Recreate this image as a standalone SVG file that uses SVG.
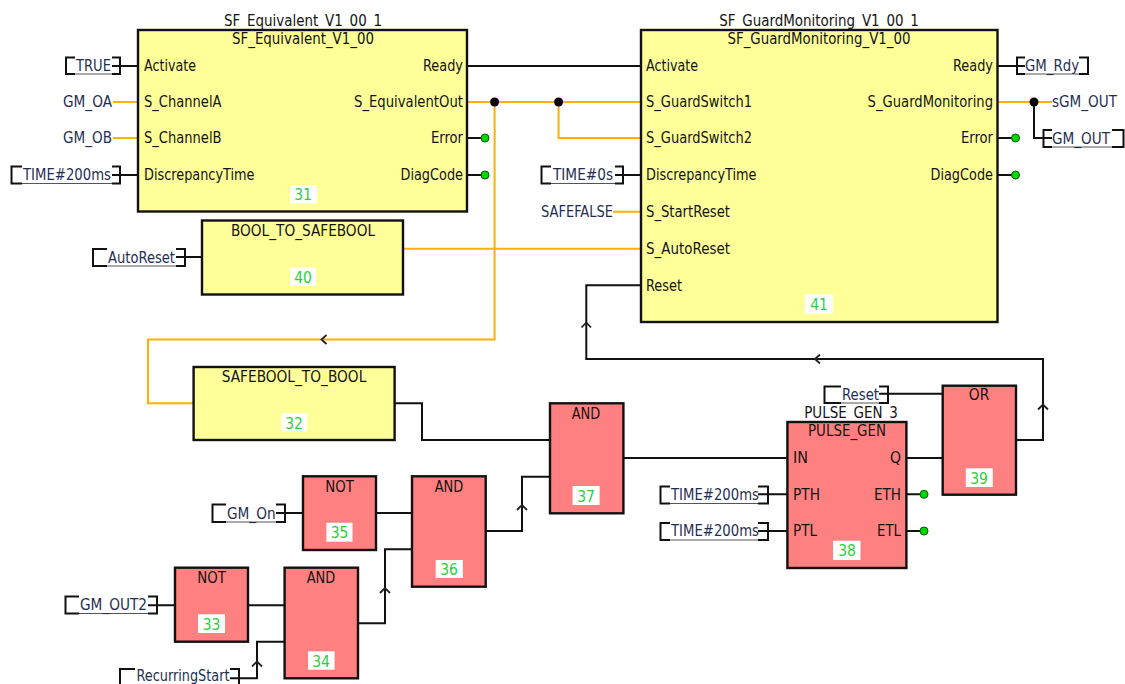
<svg xmlns="http://www.w3.org/2000/svg" width="1125" height="684" viewBox="0 0 1125 684">
<style>
text{font-family:"DejaVu Sans Condensed","DejaVu Sans",sans-serif;font-size:15.5px;fill:#141414;lengthAdjust:spacingAndGlyphs}
.e{text-anchor:end}.m{text-anchor:middle}
.v{fill:#1f2f52}
.n{fill:#2ccf3c;text-anchor:middle}
.y{fill:#ffff99;stroke:#111;stroke-width:2.4}
.r{fill:#ff8080;stroke:#111;stroke-width:2.4}
.w{fill:#fff}
.k{fill:none;stroke:#111;stroke-width:2}
.o{fill:none;stroke:#ffb000;stroke-width:2}
.b{fill:none;stroke:#111;stroke-width:2}
.t{fill:none;stroke:#555;stroke-width:1}
.a{fill:none;stroke:#222;stroke-width:1.8}
.g{fill:#00d800;stroke:#0a5a0a;stroke-width:1}
</style>
<g id="connectors">
<path class="k" d="M112 66H138M112 175H138M176 257H202M467 66H641M467 138H485M467 175H485M615 175H641M997 66H1025M997 138H1015M997 175H1015M1034 102V138H1052"/>
<path class="o" d="M113 102H138M113 138H138M467 102H641M558.600 102V138H641M403 248.700H641M613 211.700H641M997 102H1052M494.600 102V339.500H148V403.300H194"/>
<path class="k" d="M394.600 403.300H422V440H550M376 513H412M276 513H303M248 605.300H285M148 605.300H175M485.700 531H522V476.700H550M358 623.300H385V549.300H412M230 678.300H257V641.700H285M623.400 458H787M906 458H943M879 393.700H943M1016 440H1043V359H586.300V285.300H641M758 494.300H787M758 531H787M906 494.300H924M906 531H924"/>
<path class="a" d="M326.500 335L321.500 339.500L326.500 344M820 354.500L815 359L820 363.500M581.500 327.500L586.300 322.500L591 327.500M1038 409.500L1043 404.500L1048 409.500M517 510L522 505L527 510M380 593L385 588L390 593M252 666.500L257 661.500L262 666.500"/>
<circle cx="494.600" cy="102" r="4.500" fill="#000"/><circle cx="558.600" cy="102" r="4.500" fill="#000"/><circle cx="1034" cy="102" r="4.500" fill="#000"/>
<circle class="g" cx="485" cy="138" r="4"/><circle class="g" cx="485" cy="175" r="4"/><circle class="g" cx="1015.500" cy="138" r="4"/><circle class="g" cx="1015.500" cy="175" r="4"/><circle class="g" cx="924" cy="494.300" r="4"/><circle class="g" cx="924" cy="531" r="4"/>
</g>
<g id="n31"><text class="m" x="303" y="26" textLength="158" lengthAdjust="spacingAndGlyphs">SF_Equivalent_V1_00_1</text><rect class="y" x="138" y="30" width="329" height="181.500"/><text class="m" x="303" y="44" textLength="142" lengthAdjust="spacingAndGlyphs">SF_Equivalent_V1_00</text>
<text x="144" y="71" textLength="52" lengthAdjust="spacingAndGlyphs">Activate</text><text x="144" y="107" textLength="77.500" lengthAdjust="spacingAndGlyphs">S_ChannelA</text><text x="144" y="143" textLength="77.500" lengthAdjust="spacingAndGlyphs">S_ChannelB</text><text x="144" y="180" textLength="110.500" lengthAdjust="spacingAndGlyphs">DiscrepancyTime</text>
<text class="e" x="463" y="71" textLength="40" lengthAdjust="spacingAndGlyphs">Ready</text><text class="e" x="463" y="107" textLength="109" lengthAdjust="spacingAndGlyphs">S_EquivalentOut</text><text class="e" x="463" y="143" textLength="32" lengthAdjust="spacingAndGlyphs">Error</text><text class="e" x="463" y="180" textLength="62.500" lengthAdjust="spacingAndGlyphs">DiagCode</text>
<rect class="w" x="290" y="185" width="27" height="18.500"/><text class="n" x="303" y="200">31</text></g>
<g id="n40"><rect class="y" x="202" y="220.500" width="201" height="74"/><text class="m" x="303" y="236" textLength="144" lengthAdjust="spacingAndGlyphs">BOOL_TO_SAFEBOOL</text><rect class="w" x="290" y="267.700" width="26" height="18"/><text class="n" x="303" y="283">40</text></g>
<g id="n41"><text class="m" x="819" y="26" textLength="199.600" lengthAdjust="spacingAndGlyphs">SF_GuardMonitoring_V1_00_1</text><rect class="y" x="641" y="30" width="356.500" height="292"/><text class="m" x="819" y="44" textLength="183" lengthAdjust="spacingAndGlyphs">SF_GuardMonitoring_V1_00</text>
<text x="646" y="71" textLength="52" lengthAdjust="spacingAndGlyphs">Activate</text><text x="646" y="107" textLength="106" lengthAdjust="spacingAndGlyphs">S_GuardSwitch1</text><text x="646" y="143" textLength="106" lengthAdjust="spacingAndGlyphs">S_GuardSwitch2</text><text x="646" y="180" textLength="110.500" lengthAdjust="spacingAndGlyphs">DiscrepancyTime</text><text x="646" y="217" textLength="84" lengthAdjust="spacingAndGlyphs">S_StartReset</text><text x="646" y="254" textLength="84" lengthAdjust="spacingAndGlyphs">S_AutoReset</text><text x="646" y="291" textLength="36" lengthAdjust="spacingAndGlyphs">Reset</text>
<text class="e" x="993" y="71" textLength="40" lengthAdjust="spacingAndGlyphs">Ready</text><text class="e" x="993" y="107" textLength="125.400" lengthAdjust="spacingAndGlyphs">S_GuardMonitoring</text><text class="e" x="993" y="143" textLength="32" lengthAdjust="spacingAndGlyphs">Error</text><text class="e" x="993" y="180" textLength="62.500" lengthAdjust="spacingAndGlyphs">DiagCode</text>
<rect class="w" x="805" y="294.300" width="28" height="19.500"/><text class="n" x="819" y="310">41</text></g>
<g id="n32"><rect class="y" x="193.600" y="367" width="201" height="73"/><text class="m" x="294" y="382" textLength="144.600" lengthAdjust="spacingAndGlyphs">SAFEBOOL_TO_BOOL</text><rect class="w" x="281.400" y="413.300" width="25.600" height="18"/><text class="n" x="294" y="428.500">32</text></g>
<g id="n33"><rect class="r" x="175" y="567.700" width="73" height="74"/><text class="m" x="211.500" y="583" textLength="28.600" lengthAdjust="spacingAndGlyphs">NOT</text><rect class="w" x="198" y="614.300" width="27" height="18.700"/><text class="n" x="211.500" y="629.500">33</text></g>
<g id="n34"><rect class="r" x="284.600" y="567.700" width="73.400" height="110.600"/><text class="m" x="321" y="583" textLength="28.600" lengthAdjust="spacingAndGlyphs">AND</text><rect class="w" x="308" y="651.300" width="26.600" height="18.400"/><text class="n" x="321" y="666.500">34</text></g>
<g id="n35"><rect class="r" x="303" y="476.300" width="73" height="73.700"/><text class="m" x="339.500" y="492" textLength="28.600" lengthAdjust="spacingAndGlyphs">NOT</text><rect class="w" x="326.400" y="522.700" width="26.100" height="19"/><text class="n" x="339.500" y="538">35</text></g>
<g id="n36"><rect class="r" x="412" y="476.300" width="73.700" height="110.400"/><text class="m" x="449" y="492" textLength="28.600" lengthAdjust="spacingAndGlyphs">AND</text><rect class="w" x="435.700" y="560" width="27.200" height="18"/><text class="n" x="449" y="575">36</text></g>
<g id="n37"><rect class="r" x="550" y="403.300" width="73.400" height="110"/><text class="m" x="586" y="419" textLength="28.600" lengthAdjust="spacingAndGlyphs">AND</text><rect class="w" x="572.600" y="486" width="27" height="19"/><text class="n" x="586" y="501.500">37</text></g>
<g id="n38"><text class="m" x="851" y="418" textLength="93.700" lengthAdjust="spacingAndGlyphs">PULSE_GEN_3</text><rect class="r" x="787.400" y="422" width="119" height="146"/><text class="m" x="847" y="436" textLength="78" lengthAdjust="spacingAndGlyphs">PULSE_GEN</text>
<text x="793" y="463" textLength="15" lengthAdjust="spacingAndGlyphs">IN</text><text x="793" y="499.500" textLength="27" lengthAdjust="spacingAndGlyphs">PTH</text><text x="793" y="536" textLength="24" lengthAdjust="spacingAndGlyphs">PTL</text><text class="e" x="901" y="463" textLength="11" lengthAdjust="spacingAndGlyphs">Q</text><text class="e" x="901" y="499.500" textLength="27" lengthAdjust="spacingAndGlyphs">ETH</text><text class="e" x="901" y="536" textLength="24" lengthAdjust="spacingAndGlyphs">ETL</text>
<rect class="w" x="833" y="540.700" width="27.500" height="19.300"/><text class="n" x="847" y="556">38</text></g>
<g id="n39"><rect class="r" x="942.700" y="385.700" width="73.300" height="109"/><text class="m" x="979" y="400" textLength="20.500" lengthAdjust="spacingAndGlyphs">OR</text><rect class="w" x="965.800" y="468.300" width="27" height="18.700"/><text class="n" x="979" y="483.500">39</text></g>
<g id="v-true"><path class="b" d="M75 57.500H66V74H75M112 57.500H120V74H112"/><path class="t" d="M75 74H112"/><text class="v" x="76" y="71" textLength="35" lengthAdjust="spacingAndGlyphs">TRUE</text></g>
<g id="v-gm-oa"><text class="v e" x="112" y="107" textLength="49" lengthAdjust="spacingAndGlyphs">GM_OA</text></g>
<g id="v-gm-ob"><text class="v e" x="112" y="143" textLength="49" lengthAdjust="spacingAndGlyphs">GM_OB</text></g>
<g id="v-time1"><path class="b" d="M22 166.500H11.500V183.500H22M112 166.500H120V183.500H112"/><path class="t" d="M22 183.500H112"/><text class="v" x="23" y="180" textLength="88" lengthAdjust="spacingAndGlyphs">TIME#200ms</text></g>
<g id="v-autoreset"><path class="b" d="M107 249H93V266H107M176 249H185V266H176"/><path class="t" d="M107 266H176"/><text class="v" x="108" y="263" textLength="67" lengthAdjust="spacingAndGlyphs">AutoReset</text></g>
<g id="v-time2"><path class="b" d="M551 166.500H541.500V183.500H551M615 166.500H623V183.500H615"/><path class="t" d="M551 183.500H615"/><text class="v" x="553" y="180" textLength="60" lengthAdjust="spacingAndGlyphs">TIME#0s</text></g>
<g id="v-safefalse"><text class="v e" x="613" y="217" textLength="72" lengthAdjust="spacingAndGlyphs">SAFEFALSE</text></g>
<g id="v-gm-rdy"><path class="b" d="M1025 57.500H1017V74H1025M1079 57.500H1088V74H1079"/><path class="t" d="M1025 74H1079"/><text class="v" x="1025" y="71" textLength="54" lengthAdjust="spacingAndGlyphs">GM_Rdy</text></g>
<g id="v-sgm-out"><text class="v" x="1052" y="107" textLength="65" lengthAdjust="spacingAndGlyphs">sGM_OUT</text></g>
<g id="v-gm-out"><path class="b" d="M1052 130H1043.500V147H1052M1112 130H1123.500V147H1112"/><path class="t" d="M1052 147H1112"/><text class="v" x="1052" y="144" textLength="58" lengthAdjust="spacingAndGlyphs">GM_OUT</text></g>
<g id="v-reset"><path class="b" d="M841 386.500H824.500V403H841M879 386.500H888V403H879"/><path class="t" d="M841 403H879"/><text class="v" x="842" y="400" textLength="37" lengthAdjust="spacingAndGlyphs">Reset</text></g>
<g id="v-pth"><path class="b" d="M670 486.500H660.500V503.500H670M758 486.500H768V503.500H758"/><path class="t" d="M670 503.500H758"/><text class="v" x="671" y="500" textLength="88" lengthAdjust="spacingAndGlyphs">TIME#200ms</text></g>
<g id="v-ptl"><path class="b" d="M670 523H660.500V540H670M758 523H768V540H758"/><path class="t" d="M670 540H758"/><text class="v" x="671" y="536" textLength="88" lengthAdjust="spacingAndGlyphs">TIME#200ms</text></g>
<g id="v-gm-on"><path class="b" d="M226 504.500H212.500V522H226M276 504.500H285V522H276"/><path class="t" d="M226 522H276"/><text class="v" x="227" y="519" textLength="48.600" lengthAdjust="spacingAndGlyphs">GM_On</text></g>
<g id="v-gm-out2"><path class="b" d="M79 596.500H65.500V613.500H79M148 596.500H157V613.500H148"/><path class="t" d="M79 613.500H148"/><text class="v" x="80" y="610" textLength="67" lengthAdjust="spacingAndGlyphs">GM_OUT2</text></g>
<g id="v-recurring"><path class="b" d="M135 669H120V684M230 669H239V684"/><text class="v" x="136.500" y="681" textLength="93" lengthAdjust="spacingAndGlyphs">RecurringStart</text></g>
</svg>
